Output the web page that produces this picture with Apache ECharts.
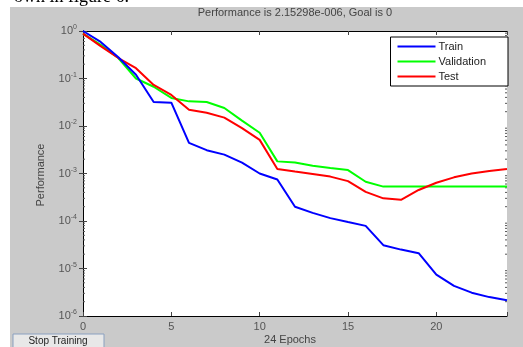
<!DOCTYPE html>
<html><head><meta charset="utf-8">
<script src="https://cdn.jsdelivr.net/npm/echarts@6/dist/echarts.min.js"></script>
<style>html,body{margin:0;padding:0;background:#fff;}#c{width:523px;height:347px;}</style>
</head><body><div id="c"></div>
<script>
var epochs = [0,1,2,3,4,5,6,7,8,9,10,11,12,13,14,15,16,17,18,19,20,21,22,23,24];
var train = [1.0,0.59,0.28,0.12,0.032,0.031,0.0044,0.0031,0.0025,0.0017,0.001,0.00075,0.0002,0.000148,0.000115,0.000095,0.000079,0.000031,0.000025,0.000021,0.0000074,0.0000043,0.0000031,0.0000025,0.00000215];
var validation = [0.88,0.51,0.27,0.1,0.067,0.039,0.033,0.032,0.024,0.013,0.0072,0.0018,0.0017,0.00145,0.0013,0.00118,0.00067,0.00053,0.00053,0.00053,0.00053,0.00053,0.00053,0.00053,0.00053];
var test = [0.88,0.48,0.27,0.165,0.073,0.045,0.022,0.019,0.015,0.009,0.0051,0.00125,0.0011,0.00098,0.00086,0.00069,0.00041,0.0003,0.00028,0.00045,0.00064,0.00083,0.001,0.00113,0.00125];
var seriesNames = ['Train','Validation','Test'];
var xTicks = [0,5,10,15,20];
var yExponents = [0,-1,-2,-3,-4,-5,-6];

var minorVals = [];
for (var e = -6; e < 0; e++) for (var m = 2; m <= 9; m++) minorVals.push(m * Math.pow(10, e));

function pairs(arr){ return epochs.map(function(x,i){ return [x, arr[i]]; }); }

var chart = echarts.init(document.getElementById('c'));
var axisCol = '#000';
var labCol = '#555';
chart.setOption({
  animation: false,
  backgroundColor: '#fff',
  graphic: [
    {type:'rect', shape:{x:10,y:7,width:513,height:340}, style:{fill:'#cacaca'}, z:-10},
    {type:'rect', shape:{x:83,y:31,width:424,height:285}, style:{fill:'#fff'}, z:-9},
    {type:'text', left:14, top:-12, style:{text:'own in figure 6.', font:'18px "Liberation Serif"', fill:'#000'}},
    {type:'rect', shape:{x:13,y:334,width:91,height:16}, style:{fill:'#e8e8e8', stroke:'#8aa0c0', lineWidth:1}, z:5},
    {type:'text', x:58, y:341, style:{text:'Stop Training', font:'10px "Liberation Sans"', fill:'#222', align:'center', verticalAlign:'middle'}, z:6},
    {type:'text', x:295, y:13, style:{text:'Performance is 2.15298e-006, Goal is 0', font:'11px "Liberation Sans"', fill:'#444', align:'center', verticalAlign:'middle'}},
    {type:'text', x:290, y:340, style:{text:'24 Epochs', font:'11px "Liberation Sans"', fill:'#444', align:'center', verticalAlign:'middle'}},
    {type:'text', x:41, y:175, rotation:Math.PI/2, style:{text:'Performance', font:'11px "Liberation Sans"', fill:'#444', align:'center', verticalAlign:'middle'}}
  ],
  grid: {left:83, right:16, top:31, bottom:31, show:false},
  legend: {
    data: seriesNames, orient:'vertical', right:15, top:37,
    backgroundColor:'#fff', borderColor:'#000', borderWidth:1, borderRadius:0,
    padding:[4,22,4,7], itemGap:4, itemWidth:38, itemHeight:2,
    icon:'rect',
    textStyle:{color:'#222', fontSize:11, fontFamily:'Liberation Sans', padding:[0,0,0,-2]}
  },
  xAxis: [
    {type:'value', min:0, max:24, interval:5, position:'bottom',
     axisLine:{show:true, lineStyle:{color:axisCol, width:1}},
     axisTick:{show:true, inside:true, length:4, lineStyle:{color:'#444'}},
     axisLabel:{color:labCol, fontSize:11, fontFamily:'Liberation Sans', margin:5,
       formatter:function(v){ return xTicks.indexOf(v)>=0 ? String(v) : ''; }},
     splitLine:{show:false}},
    {type:'value', min:0, max:24, interval:5, position:'top',
     axisLine:{show:true, lineStyle:{color:axisCol, width:1}},
     axisTick:{show:true, inside:true, length:4, lineStyle:{color:'#444'}},
     axisLabel:{show:false}, splitLine:{show:false}}
  ],
  yAxis: [
    {type:'log', logBase:10, min:1e-6, max:1, position:'left',
     axisLine:{show:true, lineStyle:{color:axisCol, width:1}},
     axisTick:{show:true, inside:true, length:4, lineStyle:{color:'#444'}},
     axisLabel:{color:labCol, fontSize:11, fontFamily:'Liberation Sans', margin:6,
       formatter:function(v){ var ex = Math.round(Math.log10(v)); return '{b|10}{s|' + ex + '}'; },
       rich:{b:{fontSize:11, color:labCol, fontFamily:'Liberation Sans', lineHeight:14},
             s:{fontSize:7, color:labCol, fontFamily:'Liberation Sans', verticalAlign:'top', lineHeight:14, padding:[0,0,8,0]}}},
     splitLine:{show:false}},
    {type:'log', logBase:10, min:1e-6, max:1, position:'right',
     axisLine:{show:true, lineStyle:{color:axisCol, width:1}},
     axisTick:{show:true, inside:true, length:4, lineStyle:{color:'#444'}},
     axisLabel:{show:false}, splitLine:{show:false}}
  ],
  series: [
    {name:'Train', type:'line', data:pairs(train), showSymbol:false, lineStyle:{color:'#0000ff', width:2}, itemStyle:{color:'#0000ff'}, z:3},
    {name:'Validation', type:'line', data:pairs(validation), showSymbol:false, lineStyle:{color:'#00ff00', width:2}, itemStyle:{color:'#00ff00'}, z:2},
    {name:'Test', type:'line', data:pairs(test), showSymbol:false, lineStyle:{color:'#ff0000', width:2}, itemStyle:{color:'#ff0000'}, z:2},
    {type:'custom', silent:true, data:minorVals.map(function(v){return [0,v];}),
     renderItem:function(params, api){
       var p = api.coord([0, api.value(1)]);
       var r = api.coord([24, api.value(1)]);
       return {type:'group', children:[
         {type:'line', shape:{x1:p[0], y1:p[1], x2:p[0]+2, y2:p[1]}, style:{stroke:'#555', lineWidth:1}},
         {type:'line', shape:{x1:r[0]-2, y1:r[1], x2:r[0], y2:r[1]}, style:{stroke:'#555', lineWidth:1}}
       ]};
     }, z:1}
  ]
});
</script></body></html>
